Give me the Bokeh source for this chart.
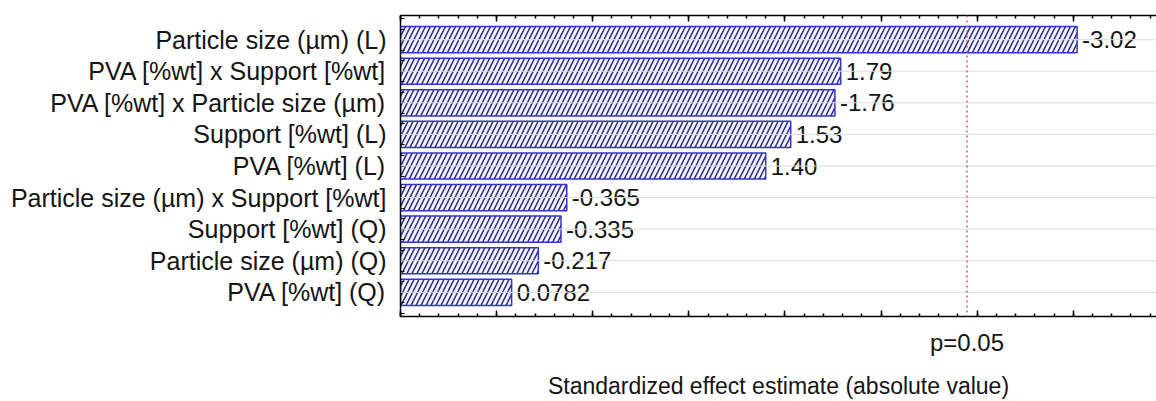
from bokeh.plotting import figure
from bokeh.models import (Range1d, LinearAxis, FixedTicker, Span)
from bokeh.core.properties import value
from bokeh.embed import file_html
from bokeh.resources import INLINE
import numpy as np

# ---- data ----
factors = [
    "Particle size (µm) (L)",
    "PVA [%wt] x Support [%wt]",
    "PVA [%wt] x Particle size (µm)",
    "Support [%wt] (L)",
    "PVA [%wt] (L)",
    "Particle size (µm) x Support [%wt]",
    "Support [%wt] (Q)",
    "Particle size (µm) (Q)",
    "PVA [%wt] (Q)",
]
effects = [-3.02, 1.79, -1.76, 1.53, 1.40, -0.365, -0.335, -0.217, 0.0782]
p_critical = 2.447
p_label = "p=0.05"
x_title = "Standardized effect estimate (absolute value)"

FONT = "Liberation Sans"
TXT = "#141414"

n = len(factors)
ypos = list(range(n))
absvals = [abs(v) for v in effects]
labels = [f"{v:#.3g}" for v in effects]

x_min, x_max = -0.5, 3.433
p = figure(width=1156, height=401, output_backend="svg", toolbar_location=None,
           x_range=Range1d(x_min, x_max), y_range=Range1d(n - 1 + 0.765, -0.765),
           x_axis_location=None, y_axis_location=None,
           min_border_left=400, min_border_right=0, min_border_top=15, min_border_bottom=82)
p.outline_line_color = None
p.background_fill_color = "white"
p.xgrid.visible = False
p.ygrid.visible = False

# horizontal gridlines at category centers
for yy in ypos:
    p.add_layout(Span(location=yy, dimension="width", line_color="#dddddd", line_width=1))

# bars
p.hbar(y=ypos, left=x_min, right=absvals, height=0.83,
       fill_color="#f4f4fc", line_color="#3535c8", line_width=1.5,
       hatch_pattern="right_diagonal_line", hatch_color="#2a2a88",
       hatch_scale=10, hatch_weight=1.5)

# value labels
p.text(x=absvals, y=ypos, text=labels, x_offset=5, text_baseline="middle",
       text_align="left", text_font=value(FONT), text_font_size="24px", text_color=TXT)

# p=0.05 line
p.add_layout(Span(location=p_critical, dimension="height", line_color="#e05a5a",
                  line_dash="2 3", line_width=1.5))

major = [float(v) for v in np.round(np.arange(x_min, x_max + 1e-9, 0.5), 3)]
minor = [float(v) for v in np.round(np.arange(x_min, x_max + 1e-9, 0.1), 3)]

def tick_axis():
    ax = LinearAxis(ticker=FixedTicker(ticks=major, minor_ticks=minor))
    ax.axis_line_color = "black"
    ax.axis_line_width = 1.5
    ax.major_tick_in = 6
    ax.major_tick_out = 0
    ax.minor_tick_in = 3
    ax.minor_tick_out = 0
    ax.major_tick_line_color = "black"
    ax.minor_tick_line_color = "black"
    ax.major_tick_line_width = 1.5
    ax.minor_tick_line_width = 1.5
    ax.major_label_overrides = {m: "" for m in major}
    ax.major_label_standoff = 0
    return ax

p.add_layout(tick_axis(), "above")
p.add_layout(tick_axis(), "below")

# p-label + title axis
ax2 = LinearAxis(ticker=FixedTicker(ticks=[p_critical], minor_ticks=[]))
ax2.major_label_overrides = {p_critical: p_label}
ax2.axis_line_color = None
ax2.major_tick_line_color = None
ax2.major_tick_in = 0
ax2.major_tick_out = 0
ax2.major_label_standoff = 12
ax2.major_label_text_font = FONT
ax2.major_label_text_font_size = "24px"
ax2.major_label_text_color = TXT
ax2.axis_label = x_title
ax2.axis_label_text_font = FONT
ax2.axis_label_text_font_size = "23px"
ax2.axis_label_text_font_style = "normal"
ax2.axis_label_text_color = TXT
ax2.axis_label_standoff = 14
p.add_layout(ax2, "below")

# left category axis
ay = LinearAxis(ticker=FixedTicker(ticks=ypos,
                minor_ticks=[float(v) for v in np.round(np.arange(-0.667, n, 1/3), 3)]))
ay.major_label_overrides = {i: f for i, f in enumerate(factors)}
ay.axis_line_color = "black"
ay.axis_line_width = 1.5
ay.major_tick_in = 0
ay.major_tick_out = 0
ay.minor_tick_in = 4
ay.minor_tick_out = 0
ay.minor_tick_line_color = "black"
ay.major_label_standoff = 14
ay.major_label_text_font = FONT
ay.major_label_text_font_size = "25px"
ay.major_label_text_color = TXT
p.add_layout(ay, "left")

open("out.html", "w").write(file_html(p, INLINE))
